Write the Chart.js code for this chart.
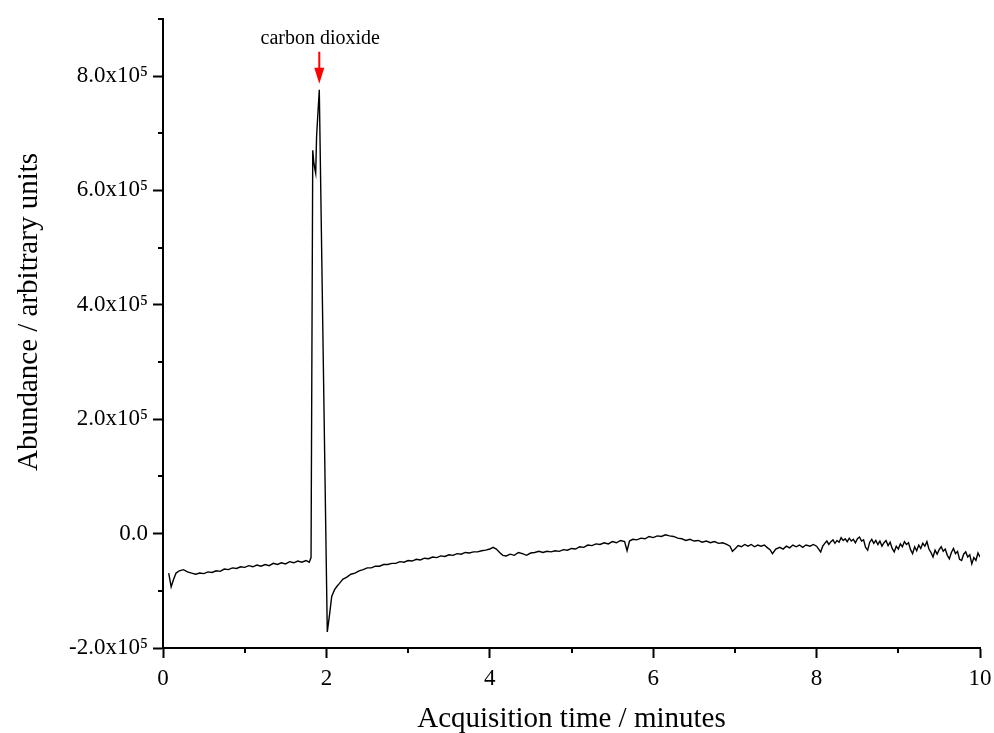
<!DOCTYPE html>
<html>
<head>
<meta charset="utf-8">
<script src="https://cdn.jsdelivr.net/npm/chart.js@4"></script>
<style>
  html, body { margin: 0; padding: 0; background: #fff; }
  canvas { display: block; }
</style>
</head>
<body>
<canvas id="chart" width="994" height="733"></canvas>
<script>
// acquisition time (minutes)
const timeMin = [
  0.07, 0.10, 0.13, 0.16, 0.20, 0.25, 0.30, 0.35, 0.40, 0.45, 0.50, 0.55, 0.60, 0.65, 0.70, 0.75, 0.80, 0.85, 0.90, 0.95,
  1.00, 1.05, 1.10, 1.15, 1.20, 1.25, 1.30, 1.35, 1.40, 1.45, 1.50, 1.55, 1.60, 1.65, 1.70, 1.75, 1.79,
  1.812, 1.833, 1.845, 1.858, 1.869, 1.880, 1.913, 2.011,
  2.04, 2.065, 2.10, 2.13, 2.16, 2.20, 2.25, 2.30, 2.35, 2.40, 2.45, 2.50, 2.55, 2.60, 2.65, 2.70, 2.75, 2.80, 2.85, 2.90, 2.95,
  3.00, 3.05, 3.10, 3.15, 3.20, 3.25, 3.30, 3.35, 3.40, 3.45, 3.50, 3.55, 3.60, 3.65, 3.70, 3.75, 3.80, 3.85, 3.90, 3.95,
  4.00, 4.04, 4.08, 4.12, 4.16, 4.20, 4.25, 4.30, 4.35, 4.40, 4.45, 4.50, 4.55, 4.60, 4.65, 4.70, 4.75, 4.80, 4.85, 4.90, 4.95,
  5.00, 5.05, 5.10, 5.15, 5.20, 5.25, 5.30, 5.35, 5.40, 5.45, 5.50, 5.55, 5.60, 5.65, 5.68, 5.71, 5.75, 5.80, 5.85, 5.90, 5.95,
  6.00, 6.05, 6.10, 6.15, 6.20, 6.25, 6.30, 6.35, 6.40, 6.45, 6.50, 6.55, 6.60, 6.65, 6.70, 6.75, 6.80, 6.85, 6.90, 6.94, 6.97,
  7.00, 7.04, 7.08, 7.12, 7.16, 7.20, 7.24, 7.28, 7.32, 7.36, 7.40, 7.43, 7.46, 7.50, 7.55, 7.59, 7.63, 7.67, 7.71, 7.75, 7.79,
  7.83, 7.87, 7.92, 7.96,
  8.000, 8.025, 8.050, 8.075, 8.100, 8.125, 8.150, 8.175, 8.200, 8.225, 8.250, 8.275, 8.300, 8.325, 8.350, 8.375,
  8.400, 8.425, 8.450, 8.475, 8.500, 8.525, 8.550, 8.575, 8.600, 8.625, 8.650, 8.675, 8.700, 8.725, 8.750, 8.775,
  8.800, 8.825, 8.850, 8.875, 8.900, 8.925, 8.950, 8.975, 9.000, 9.025, 9.050, 9.075, 9.100, 9.125, 9.150, 9.175,
  9.200, 9.225, 9.250, 9.275, 9.300, 9.325, 9.350, 9.375, 9.400, 9.425, 9.450, 9.475, 9.500, 9.525, 9.550, 9.575,
  9.600, 9.625, 9.650, 9.675, 9.700, 9.725, 9.750, 9.775, 9.800, 9.825, 9.850, 9.875, 9.900, 9.925, 9.950, 9.975,
  10.000
];

// abundance, in units of 10^5 (arbitrary units)
const abundance = [
  -0.69, -0.93, -0.80, -0.69, -0.65, -0.63, -0.67, -0.69, -0.71, -0.69, -0.70, -0.67, -0.68, -0.65, -0.66, -0.62, -0.63, -0.60, -0.61, -0.58,
  -0.59, -0.56, -0.58, -0.55, -0.57, -0.54, -0.56, -0.52, -0.54, -0.51, -0.53, -0.49, -0.51, -0.48, -0.50, -0.47, -0.50,
  -0.42, 6.70, 6.50, 6.38, 6.30, 6.95, 7.76, -1.72,
  -1.40, -1.10, -0.98, -0.92, -0.87, -0.80, -0.76, -0.71, -0.69, -0.65, -0.63, -0.60, -0.60, -0.57, -0.57, -0.54, -0.54, -0.52, -0.52, -0.49, -0.50,
  -0.47, -0.48, -0.45, -0.46, -0.43, -0.44, -0.41, -0.42, -0.39, -0.40, -0.37, -0.38, -0.35, -0.36, -0.33, -0.34, -0.32, -0.32, -0.30, -0.29,
  -0.27, -0.24, -0.27, -0.33, -0.38, -0.39, -0.36, -0.38, -0.33, -0.35, -0.38, -0.34, -0.33, -0.31, -0.33, -0.31, -0.32, -0.30, -0.31, -0.28, -0.29,
  -0.26, -0.27, -0.23, -0.24, -0.20, -0.21, -0.18, -0.19, -0.16, -0.18, -0.14, -0.16, -0.12, -0.14, -0.30, -0.13, -0.10, -0.11, -0.08, -0.09, -0.05,
  -0.07, -0.04, -0.05, -0.02, -0.04, -0.05, -0.08, -0.09, -0.12, -0.10, -0.13, -0.12, -0.15, -0.13, -0.16, -0.14, -0.17, -0.16, -0.19, -0.22, -0.31,
  -0.27, -0.21, -0.23, -0.19, -0.22, -0.19, -0.23, -0.20, -0.22, -0.20, -0.25, -0.28, -0.35, -0.27, -0.24, -0.27, -0.22, -0.25, -0.20, -0.23, -0.20,
  -0.24, -0.20, -0.22, -0.19,
  -0.22, -0.27, -0.32, -0.22, -0.17, -0.13, -0.19, -0.14, -0.11, -0.17, -0.12, -0.15, -0.07, -0.12, -0.09, -0.14,
  -0.08, -0.13, -0.10, -0.16, -0.09, -0.06, -0.13, -0.11, -0.24, -0.29, -0.15, -0.10, -0.17, -0.12, -0.19, -0.13,
  -0.22, -0.16, -0.12, -0.21, -0.15, -0.26, -0.32, -0.22, -0.27, -0.18, -0.23, -0.14, -0.19, -0.16, -0.28, -0.35,
  -0.23, -0.30, -0.20, -0.26, -0.17, -0.22, -0.14, -0.27, -0.33, -0.41, -0.29, -0.36, -0.28, -0.23, -0.31, -0.27,
  -0.38, -0.44, -0.33, -0.26, -0.35, -0.31, -0.45, -0.47, -0.36, -0.32, -0.41, -0.37, -0.53, -0.42, -0.47, -0.34,
  -0.41
];

const xTicks = [0, 2, 4, 6, 8, 10];
const xMinorTicks = [1, 3, 5, 7, 9];
const yTicks = [-2, 0, 2, 4, 6, 8];
const yMinorTicks = [-1, 1, 3, 5, 7, 9];

const peakTime = 1.913;
const peakValue = 7.76;
const peakLabel = "carbon dioxide";

const serif = "'Liberation Serif', 'Times New Roman', serif";

const minorTicks = {
  id: "minorTicks",
  afterDraw(chart) {
    const ctx = chart.ctx;
    const xs = chart.scales.x, ys = chart.scales.y;
    const area = chart.chartArea;
    ctx.save();
    ctx.strokeStyle = "#000";
    ctx.lineWidth = 2;
    ctx.beginPath();
    xMinorTicks.forEach(v => {
      const px = Math.round(xs.getPixelForValue(v));
      ctx.moveTo(px, area.bottom);
      ctx.lineTo(px, area.bottom + 5);
    });
    yMinorTicks.forEach(v => {
      const py = Math.round(ys.getPixelForValue(v));
      ctx.moveTo(area.left, py);
      ctx.lineTo(area.left - 5, py);
    });
    ctx.stroke();
    ctx.restore();
  }
};

const annotations = {
  id: "annotations",
  afterDraw(chart) {
    const ctx = chart.ctx;
    const xs = chart.scales.x, ys = chart.scales.y;
    const px = xs.getPixelForValue(peakTime);
    const py = ys.getPixelForValue(peakValue);
    ctx.save();

    // red arrow pointing at the peak
    const tip = py - 6;
    ctx.strokeStyle = "#ff0000";
    ctx.fillStyle = "#ff0000";
    ctx.lineWidth = 2;
    ctx.beginPath();
    ctx.moveTo(px, tip - 32);
    ctx.lineTo(px, tip - 14);
    ctx.stroke();
    ctx.beginPath();
    ctx.moveTo(px - 5, tip - 16);
    ctx.lineTo(px + 5, tip - 16);
    ctx.lineTo(px, tip);
    ctx.closePath();
    ctx.fill();

    ctx.fillStyle = "#000";
    ctx.font = "20px " + serif;
    ctx.textAlign = "center";
    ctx.textBaseline = "alphabetic";
    ctx.fillText(peakLabel, px + 1, tip - 40);

    // y axis title
    ctx.translate(29, 312);
    ctx.rotate(-Math.PI / 2);
    ctx.font = "29px " + serif;
    ctx.textBaseline = "middle";
    ctx.fillText("Abundance / arbitrary units", 0, 0);
    ctx.restore();
  }
};

new Chart(document.getElementById("chart"), {
  type: "line",
  data: {
    datasets: [{
      data: timeMin.map((t, i) => ({ x: t, y: abundance[i] })),
      borderColor: "#000",
      borderWidth: 1.4,
      pointRadius: 0,
      tension: 0,
      fill: false
    }]
  },
  options: {
    responsive: false,
    animation: false,
    events: [],
    layout: { padding: { top: 16, right: 14, left: 0, bottom: 0 } },
    plugins: { legend: { display: false }, tooltip: { enabled: false } },
    scales: {
      x: {
        type: "linear",
        min: 0,
        max: 10,
        afterBuildTicks: s => { s.ticks = xTicks.map(v => ({ value: v })); },
        afterFit: s => { s.height = 85; s.paddingLeft = 0; s.paddingRight = 0; },
        border: { display: true, color: "#000", width: 2 },
        grid: { drawOnChartArea: false, drawTicks: true, tickLength: 10, tickWidth: 2, tickColor: "#000", color: "#000" },
        ticks: {
          color: "#000",
          padding: 7,
          maxRotation: 0,
          font: { family: serif, size: 23 },
          callback: v => String(v)
        },
        title: {
          display: true,
          text: "Acquisition time / minutes",
          color: "#000",
          font: { family: serif, size: 29 },
          padding: { top: 0, bottom: -4 }
        }
      },
      y: {
        type: "linear",
        min: -2,
        max: 9,
        afterBuildTicks: s => { s.ticks = yTicks.map(v => ({ value: v })); },
        afterFit: s => { s.width = 163; },
        border: { display: true, color: "#000", width: 2 },
        grid: { drawOnChartArea: false, drawTicks: true, tickLength: 10, tickWidth: 2, tickColor: "#000", color: "#000" },
        ticks: {
          color: "#000",
          padding: 5,
          font: { family: serif, size: 23 },
          callback: v => v === 0 ? "0.0" : v.toFixed(1) + "x10\u2075"
        }
      }
    }
  },
  plugins: [minorTicks, annotations]
});
</script>
</body>
</html>
